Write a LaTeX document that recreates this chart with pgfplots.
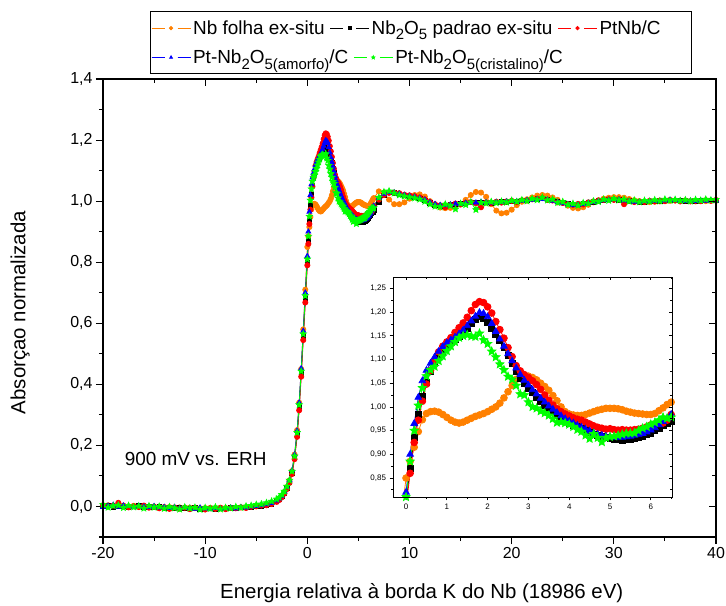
\documentclass[border=0pt]{standalone}
\usepackage{pgfplots}
\pgfplotsset{compat=1.18}
\usepackage{pgfplotstable}
\usepackage{fontspec}
\setmainfont{Liberation Sans}
\usetikzlibrary{plotmarks}

\definecolor{cOr}{RGB}{255,128,0}
\definecolor{cRd}{RGB}{255,0,0}
\definecolor{cBl}{RGB}{0,0,255}
\definecolor{cGr}{RGB}{0,255,0}

\pgfdeclareplotmark{fstar}{%
\pgfpathmoveto{\pgfpointpolar{90}{\pgfplotmarksize}}%
\pgfpathlineto{\pgfpointpolar{126}{0.45\pgfplotmarksize}}%
\pgfpathlineto{\pgfpointpolar{162}{\pgfplotmarksize}}%
\pgfpathlineto{\pgfpointpolar{198}{0.45\pgfplotmarksize}}%
\pgfpathlineto{\pgfpointpolar{234}{\pgfplotmarksize}}%
\pgfpathlineto{\pgfpointpolar{270}{0.45\pgfplotmarksize}}%
\pgfpathlineto{\pgfpointpolar{306}{\pgfplotmarksize}}%
\pgfpathlineto{\pgfpointpolar{342}{0.45\pgfplotmarksize}}%
\pgfpathlineto{\pgfpointpolar{18}{\pgfplotmarksize}}%
\pgfpathlineto{\pgfpointpolar{54}{0.45\pgfplotmarksize}}%
\pgfpathclose
\pgfusepathqfillstroke}

\newcommand\sub[1]{\raisebox{-0.3em}{\fontsize{15}{15}\selectfont #1}}

\pgfplotsset{
  pOr/.style={color=cOr, line width=0.8bp, mark=*, mark size=#1},
  pBk/.style={color=black, line width=0.8bp, mark=square*, mark size=#1},
  pRd/.style={color=cRd, line width=0.8bp, mark=*, mark size=#1},
  pBl/.style={color=cBl, line width=0.8bp, mark=triangle*, mark size=#1},
  pGr/.style={color=cGr, line width=0.8bp, mark=fstar, mark size=#1},
  myleg/.style={legend image code/.code={%
    \draw[##1, line width=1.1bp] (0bp,0bp) -- (13bp,0bp);
    \draw[##1, line width=1.1bp] (26bp,0bp) -- (39bp,0bp);
    \draw[##1, mark size=1.7bp] plot[only marks] coordinates {(19.5bp,0bp)};}},
}

\pgfplotstableread{
x y
-20 0.002
-19.5 0.004
-19 0.001
-18.5 0.006
-18 0.003
-17.5 0.0
-17 0.002
-16.5 -0.001
-16 0.001
-15.5 -0.002
-15 0.0
-14.5 -0.001
-14 -0.003
-13.5 -0.002
-13 -0.004
-12.5 -0.003
-12 -0.005
-11.5 -0.004
-11 -0.005
-10.5 -0.006
-10 -0.005
-9.5 -0.006
-9 -0.005
-8.5 -0.006
-8 -0.005
-7.5 -0.004
-7 -0.004
-6.5 -0.003
-6 -0.002
-5.5 -0.001
-5 0.0
-4.5 0.002
-4 0.006
-3.5 0.01
-3 0.018
-2.75 0.025
-2.5 0.034
-2.25 0.047
-2 0.064
-1.75 0.085
-1.5 0.116
-1.25 0.17
-1 0.25
-0.8 0.34
-0.6 0.45
-0.4 0.58
-0.2 0.71
0 0.85
0.1 0.885
0.2 0.915
0.3 0.948
0.4 0.973
0.5 0.986
0.6 0.99
0.7 0.991
0.8 0.989
0.9 0.984
1.0 0.978
1.1 0.972
1.2 0.968
1.3 0.966
1.4 0.968
1.5 0.972
1.6 0.976
1.7 0.98
1.8 0.983
1.9 0.986
2.0 0.99
2.1 0.995
2.2 1.0
2.3 1.008
2.4 1.019
2.5 1.032
2.6 1.045
2.7 1.058
2.8 1.066
2.9 1.067
3.0 1.065
3.1 1.062
3.2 1.057
3.3 1.05
3.4 1.043
3.5 1.035
3.6 1.024
3.7 1.013
3.8 1.0
3.9 0.99
4.0 0.985
4.1 0.983
4.2 0.982
4.3 0.982
4.4 0.984
4.5 0.987
4.6 0.99
4.7 0.993
4.8 0.995
4.9 0.997
5.0 0.997
5.1 0.997
5.2 0.996
5.3 0.994
5.4 0.991
5.5 0.989
5.6 0.987
5.7 0.986
5.8 0.985
5.9 0.984
6.0 0.984
6.1 0.986
6.2 0.992
6.3 0.998
6.4 1.005
6.5 1.01
7.0 1.032
7.5 1.028
8.0 1.005
8.5 0.99
9.0 0.99
9.5 0.996
10.0 1.008
10.5 1.02
11.0 1.022
11.5 1.015
12.0 1.0
12.5 0.986
13.0 0.979
13.5 0.977
14.0 0.978
14.5 0.983
15.0 0.99
15.5 1.004
16.0 1.02
16.5 1.03
17.0 1.028
17.5 1.014
18.0 0.99
18.5 0.969
19.0 0.96
19.5 0.962
20.0 0.972
20.5 0.987
21.0 0.998
21.5 1.006
22.0 1.012
22.5 1.018
23.0 1.02
23.5 1.018
24.0 1.012
24.5 1.004
25.0 0.994
25.5 0.985
26.0 0.978
26.5 0.976
27.0 0.98
27.5 0.988
28.0 0.996
28.5 1.003
29.0 1.008
29.5 1.011
30.0 1.013
30.5 1.013
31.0 1.011
31.5 1.007
32.0 1.003
32.5 1.0
33.0 0.998
33.5 0.997
34.0 0.998
34.5 0.999
35.0 1.0
35.5 1.001
36.0 1.002
36.5 1.002
37.0 1.001
37.5 1.0
38.0 0.999
38.5 1.0
39.0 1.0
39.5 1.001
40.0 1.001
}\tOr

\pgfplotstableread{
x y
-20 0.0
-19.5 0.003
-19 -0.001
-18.5 0.002
-18 0.001
-17.5 -0.002
-17 0.0
-16.5 0.002
-16 -0.003
-15.5 -0.001
-15 -0.004
-14.5 -0.002
-14 -0.005
-13.5 -0.003
-13 -0.006
-12.5 -0.004
-12 -0.006
-11.5 -0.007
-11 -0.005
-10.5 -0.008
-10 -0.006
-9.5 -0.007
-9 -0.008
-8.5 -0.006
-8 -0.007
-7.5 -0.005
-7 -0.006
-6.5 -0.004
-6 -0.003
-5.5 -0.002
-5 0.0
-4.5 0.002
-4 0.005
-3.5 0.009
-3 0.016
-2.75 0.023
-2.5 0.032
-2.25 0.044
-2 0.06
-1.75 0.08
-1.5 0.11
-1.25 0.16
-1 0.235
-0.8 0.325
-0.6 0.435
-0.4 0.555
-0.2 0.68
0 0.80
0.1 0.87
0.2 0.935
0.3 0.985
0.4 1.022
0.5 1.052
0.6 1.075
0.7 1.093
0.8 1.107
0.9 1.118
1.0 1.128
1.1 1.136
1.2 1.142
1.3 1.149
1.4 1.157
1.5 1.166
1.6 1.176
1.7 1.185
1.8 1.19
1.9 1.186
2.0 1.178
2.1 1.166
2.2 1.153
2.3 1.14
2.4 1.125
2.5 1.108
2.6 1.092
2.7 1.075
2.8 1.061
2.9 1.05
3.0 1.04
3.1 1.03
3.2 1.02
3.3 1.012
3.4 1.004
3.5 0.997
3.6 0.99
3.7 0.983
3.8 0.976
3.9 0.97
4.0 0.966
4.1 0.962
4.2 0.958
4.3 0.954
4.4 0.95
4.5 0.946
4.6 0.943
4.7 0.94
4.8 0.937
4.9 0.935
5.0 0.933
5.1 0.932
5.2 0.931
5.3 0.93
5.4 0.931
5.5 0.932
5.6 0.933
5.7 0.935
5.8 0.938
5.9 0.941
6.0 0.945
6.1 0.95
6.2 0.955
6.3 0.96
6.4 0.965
6.5 0.97
7.0 0.998
7.5 1.018
8.0 1.028
8.5 1.027
9.0 1.022
9.5 1.018
10.0 1.016
10.5 1.013
11.0 1.009
11.5 1.003
12.0 0.994
12.5 0.987
13.0 0.984
13.5 0.985
14.0 0.988
14.5 0.99
15.0 0.991
15.5 0.993
16.0 0.995
16.5 0.996
17.0 0.996
17.5 0.995
18.0 0.994
18.5 0.995
19.0 0.997
19.5 0.998
20.0 0.999
20.5 1.0
21.0 1.002
21.5 1.003
22.0 1.005
22.5 1.007
23.0 1.008
23.5 1.006
24.0 1.003
24.5 0.999
25.0 0.995
25.5 0.992
26.0 0.99
26.5 0.99
27.0 0.992
27.5 0.995
28.0 0.998
28.5 1.001
29.0 1.003
29.5 1.005
30.0 1.005
30.5 1.004
31.0 1.003
31.5 1.001
32.0 0.999
32.5 0.998
33.0 0.998
33.5 0.999
34.0 1.0
34.5 1.001
35.0 1.002
35.5 1.003
36.0 1.003
36.5 1.002
37.0 1.001
37.5 1.0
38.0 1.0
38.5 1.001
39.0 1.002
39.5 1.002
40.0 1.003
}\tBk

\pgfplotstableread{
x y
-20 0.004
-19.5 0.0
-19 0.003
-18.5 0.012
-18 0.002
-17.5 -0.003
-17 0.001
-16.5 -0.002
-16 0.003
-15.5 -0.004
-15 -0.001
-14.5 -0.006
-14 -0.002
-13.5 -0.008
-13 -0.003
-12.5 -0.007
-12 -0.004
-11.5 -0.009
-11 -0.005
-10.5 -0.007
-10 -0.01
-9.5 -0.005
-9 -0.008
-8.5 -0.004
-8 -0.009
-7.5 -0.005
-7 -0.006
-6.5 -0.003
-6 -0.005
-5.5 -0.001
-5 0.001
-4.5 0.003
-4 0.004
-3.5 0.008
-3 0.015
-2.75 0.021
-2.5 0.03
-2.25 0.042
-2 0.057
-1.75 0.077
-1.5 0.106
-1.25 0.155
-1 0.228
-0.8 0.315
-0.6 0.425
-0.4 0.545
-0.2 0.668
0 0.79
0.1 0.86
0.2 0.925
0.3 0.972
0.4 1.012
0.5 1.048
0.6 1.077
0.7 1.098
0.8 1.116
0.9 1.128
1.0 1.137
1.1 1.146
1.2 1.157
1.3 1.167
1.4 1.177
1.5 1.189
1.6 1.203
1.7 1.216
1.8 1.222
1.9 1.22
2.0 1.211
2.1 1.198
2.2 1.18
2.3 1.163
2.4 1.145
2.5 1.125
2.6 1.106
2.7 1.087
2.8 1.076
2.9 1.068
3.0 1.062
3.1 1.055
3.2 1.047
3.3 1.037
3.4 1.025
3.5 1.014
3.6 1.004
3.7 0.996
3.8 0.99
3.9 0.985
4.0 0.981
4.1 0.977
4.2 0.974
4.3 0.972
4.4 0.968
4.5 0.964
4.6 0.96
4.7 0.957
4.8 0.955
4.9 0.953
5.0 0.954
5.1 0.952
5.2 0.951
5.3 0.952
5.4 0.951
5.5 0.951
5.6 0.952
5.7 0.953
5.8 0.955
5.9 0.958
6.0 0.962
6.1 0.964
6.2 0.965
6.3 0.966
6.4 0.972
6.5 0.984
7.0 1.005
7.5 1.02
8.0 1.027
8.5 1.028
9.0 1.026
9.5 1.021
10.0 1.019
10.5 1.016
11.0 1.012
11.5 1.006
12.0 0.997
12.5 0.99
13.0 0.986
13.5 0.98
14.0 0.988
14.5 0.992
15.0 0.989
15.5 0.994
16.0 0.997
16.5 0.993
17.0 0.98
17.5 0.996
18.0 0.994
18.5 0.998
19.0 0.995
19.5 0.999
20.0 1.001
20.5 0.997
21.0 1.003
21.5 1.002
22.0 1.006
22.5 1.008
23.0 1.01
23.5 1.004
24.0 1.002
24.5 0.996
25.0 0.994
25.5 0.99
26.0 0.988
26.5 0.991
27.0 0.989
27.5 0.996
28.0 0.999
28.5 1.002
29.0 1.004
29.5 1.006
30.0 1.004
30.5 1.006
31.0 0.99
31.5 1.002
32.0 0.997
32.5 0.999
33.0 0.997
33.5 1.001
34.0 0.999
34.5 1.002
35.0 1.0
35.5 1.004
36.0 1.002
36.5 0.999
37.0 1.002
37.5 0.999
38.0 1.001
38.5 1.0
39.0 1.003
39.5 1.001
40.0 1.004
}\tRd

\pgfplotstableread{
x y
-20 -0.002
-19.5 0.002
-19 0.005
-18.5 -0.001
-18 0.003
-17.5 0.001
-17 -0.003
-16.5 0.002
-16 -0.001
-15.5 -0.003
-15 0.001
-14.5 -0.004
-14 -0.002
-13.5 -0.005
-13 -0.002
-12.5 -0.006
-12 -0.003
-11.5 -0.005
-11 -0.008
-10.5 -0.004
-10 -0.007
-9.5 -0.009
-9 -0.005
-8.5 -0.008
-8 -0.006
-7.5 -0.004
-7 -0.007
-6.5 -0.003
-6 -0.004
-5.5 0.0
-5 0.001
-4.5 0.004
-4 0.007
-3.5 0.011
-3 0.019
-2.75 0.026
-2.5 0.035
-2.25 0.048
-2 0.065
-1.75 0.086
-1.5 0.118
-1.25 0.17
-1 0.248
-0.8 0.34
-0.6 0.452
-0.4 0.575
-0.2 0.70
0 0.82
0.1 0.90
0.2 0.965
0.3 1.02
0.4 1.055
0.5 1.077
0.6 1.092
0.7 1.105
0.8 1.117
0.9 1.127
1.0 1.135
1.1 1.141
1.2 1.147
1.3 1.154
1.4 1.162
1.5 1.171
1.6 1.181
1.7 1.191
1.8 1.199
1.9 1.197
2.0 1.19
2.1 1.176
2.2 1.159
2.3 1.143
2.4 1.128
2.5 1.112
2.6 1.097
2.7 1.082
2.8 1.068
2.9 1.056
3.0 1.046
3.1 1.036
3.2 1.027
3.3 1.018
3.4 1.01
3.5 1.002
3.6 0.995
3.7 0.988
3.8 0.981
3.9 0.975
4.0 0.97
4.1 0.966
4.2 0.961
4.3 0.957
4.4 0.953
4.5 0.949
4.6 0.945
4.7 0.942
4.8 0.94
4.9 0.938
5.0 0.937
5.1 0.936
5.2 0.936
5.3 0.936
5.4 0.937
5.5 0.938
5.6 0.94
5.7 0.942
5.8 0.944
5.9 0.947
6.0 0.951
6.1 0.956
6.2 0.962
6.3 0.969
6.4 0.976
6.5 0.984
7.0 1.01
7.5 1.024
8.0 1.03
8.5 1.028
9.0 1.024
9.5 1.02
10.0 1.017
10.5 1.014
11.0 1.01
11.5 1.004
12.0 0.996
12.5 0.99
13.0 0.987
13.5 0.986
14.0 0.989
14.5 0.991
15.0 0.99
15.5 0.994
16.0 0.996
16.5 0.995
17.0 0.997
17.5 0.996
18.0 0.995
18.5 0.997
19.0 0.996
19.5 0.999
20.0 1.0
20.5 0.999
21.0 1.001
21.5 1.003
22.0 1.004
22.5 1.006
23.0 1.007
23.5 1.005
24.0 1.001
24.5 0.997
25.0 0.993
25.5 0.989
26.0 0.986
26.5 0.987
27.0 0.99
27.5 0.994
28.0 0.997
28.5 1.0
29.0 1.003
29.5 1.004
30.0 1.006
30.5 1.005
31.0 1.002
31.5 1.0
32.0 0.998
32.5 0.997
33.0 0.999
33.5 1.0
34.0 1.001
34.5 1.0
35.0 1.002
35.5 1.004
36.0 1.003
36.5 1.001
37.0 1.0
37.5 1.001
38.0 1.0
38.5 1.002
39.0 1.001
39.5 1.003
40.0 1.002
}\tBl

\pgfplotstableread{
x y
-20 0.006
-19.5 -0.003
-19 0.002
-18.5 0.004
-18 -0.004
-17.5 0.003
-17 -0.002
-16.5 0.001
-16 -0.006
-15.5 0.002
-15 -0.003
-14.5 0.0
-14 -0.007
-13.5 -0.001
-13 -0.005
-12.5 -0.009
-12 -0.002
-11.5 -0.006
-11 -0.003
-10.5 -0.01
-10 -0.004
-9.5 -0.007
-9 -0.002
-8.5 -0.009
-8 -0.004
-7.5 -0.006
-7 -0.001
-6.5 -0.004
-6 0.001
-5.5 0.003
-5 0.006
-4.5 0.008
-4 0.012
-3.5 0.017
-3 0.024
-2.75 0.03
-2.5 0.039
-2.25 0.05
-2 0.066
-1.75 0.086
-1.5 0.115
-1.25 0.165
-1 0.242
-0.8 0.333
-0.6 0.443
-0.4 0.565
-0.2 0.69
0 0.81
0.1 0.885
0.2 0.95
0.3 1.003
0.4 1.04
0.5 1.065
0.6 1.078
0.7 1.085
0.8 1.097
0.9 1.107
1.0 1.118
1.1 1.128
1.2 1.137
1.3 1.146
1.4 1.15
1.5 1.152
1.6 1.149
1.7 1.148
1.8 1.155
1.9 1.141
2.0 1.133
2.1 1.117
2.2 1.105
2.3 1.09
2.4 1.078
2.5 1.064
2.6 1.058
2.7 1.045
2.8 1.027
2.9 1.025
3.0 1.01
3.1 1.0
3.2 0.997
3.3 0.991
3.4 0.987
3.5 0.982
3.6 0.975
3.7 0.967
3.8 0.968
3.9 0.966
4.0 0.963
4.1 0.958
4.2 0.952
4.3 0.948
4.4 0.94
4.5 0.933
4.6 0.943
4.7 0.935
4.8 0.926
4.9 0.935
5.0 0.937
5.1 0.938
5.2 0.94
5.3 0.942
5.4 0.944
5.5 0.944
5.6 0.945
5.7 0.95
5.8 0.955
5.9 0.958
6.0 0.963
6.1 0.967
6.2 0.972
6.3 0.978
6.4 0.976
6.5 0.978
7.0 1.012
7.5 1.03
8.0 1.033
8.5 1.026
9.0 1.02
9.5 1.016
10.0 1.013
10.5 1.01
11.0 1.006
11.5 0.999
12.0 0.99
12.5 0.983
13.0 0.981
13.5 0.99
14.0 0.985
14.5 0.974
15.0 0.992
15.5 0.988
16.0 0.997
16.5 0.972
17.0 0.995
17.5 0.993
18.0 0.998
18.5 0.994
19.0 0.999
19.5 0.996
20.0 1.002
20.5 0.998
21.0 1.004
21.5 1.0
22.0 1.008
22.5 1.004
23.0 1.012
23.5 1.003
24.0 1.006
24.5 0.995
25.0 0.998
25.5 0.988
26.0 0.992
26.5 0.986
27.0 0.994
27.5 0.992
28.0 1.0
28.5 0.998
29.0 1.006
29.5 1.002
30.0 1.008
30.5 1.003
31.0 1.006
31.5 0.999
32.0 1.003
32.5 0.997
33.0 1.002
33.5 0.999
34.0 1.004
34.5 1.0
35.0 1.006
35.5 1.002
36.0 1.005
36.5 1.001
37.0 1.004
37.5 1.0
38.0 1.005
38.5 1.002
39.0 1.006
39.5 1.003
40.0 1.005
}\tGr

\begin{document}
\begin{tikzpicture}
\useasboundingbox (-103bp,-69bp) rectangle (623bp,537bp);

% main axis
\begin{axis}[
  at={(0,0)}, anchor=south west, scale only axis,
  width=613bp, height=458bp,
  xmin=-20, xmax=40, ymin=-0.1, ymax=1.4,
  xtick={-20,-10,0,10,20,30,40},
  minor xtick={-15,-5,5,15,25,35},
  ytick={0,0.2,0.4,0.6,0.8,1.0,1.2,1.4},
  minor ytick={-0.1,0.1,0.3,0.5,0.7,0.9,1.1,1.3},
  xtick pos=left, ytick pos=left, tick align=outside,
  major tick length=7bp, minor tick length=4bp,
  axis line style={line width=1.2bp},
  every tick/.style={black, line width=1.1bp},
  /pgf/number format/assume math mode=true,
  tick label style={font=\fontsize{16}{18}\selectfont},
  yticklabel style={/pgf/number format/.cd, fixed, fixed zerofill, precision=1, use comma},
  xticklabel style={/pgf/number format/.cd, fixed, precision=0},
  every axis x label/.style={at={(axis description cs:0.52,-0.122)}, anchor=center,
    font=\fontsize{20.5}{24}\selectfont},
  every axis y label/.style={at={(axis description cs:-0.135,0.49)}, anchor=center, rotate=90,
    font=\fontsize{20.5}{24}\selectfont},
  xlabel={Energia relativa à borda K do Nb (18986 eV)},
  ylabel={Absorçao normalizada},
  legend columns=3, myleg,
  legend style={at={(axis description cs:0.078,1.111)}, anchor=west, draw=none, fill=none,
    inner sep=0pt, font=\fontsize{19}{21}\selectfont,
    /tikz/every even column/.append style={column sep=3bp},
    nodes={inner sep=2bp}},
]
\addplot[pOr=2.6] table[x=x,y=y] {\tOr}; \addlegendentry{Nb folha ex-situ}
\addplot[pBk=2.2] table[x=x,y=y] {\tBk}; \addlegendentry{Nb\sub{2}O\sub{5} padrao ex-situ}
\addplot[pRd=2.6] table[x=x,y=y] {\tRd}; \addlegendentry{PtNb/C}
\addplot[pBl=2.8] table[x=x,y=y] {\tBl};
\addplot[pGr=3.2] table[x=x,y=y] {\tGr};
\node[anchor=west, font=\fontsize{19}{21}\selectfont] at (axis cs:-18.2,0.155) {900 mV vs. ERH};
\end{axis}

% overlay: inward ticks on top/right + second legend row
\begin{axis}[
  at={(0,0)}, anchor=south west, scale only axis,
  width=613bp, height=458bp,
  xmin=-20, xmax=40, ymin=-0.1, ymax=1.4,
  xtick={-20,-10,0,10,20,30,40},
  minor xtick={-15,-5,5,15,25,35},
  ytick={0,0.2,0.4,0.6,0.8,1.0,1.2,1.4},
  minor ytick={-0.1,0.1,0.3,0.5,0.7,0.9,1.1,1.3},
  xtick pos=right, ytick pos=right, tick align=inside,
  xticklabels={}, yticklabels={},
  major tick length=7bp, minor tick length=4bp,
  axis line style={line width=1.2bp},
  every tick/.style={black, line width=1.1bp},
  legend columns=2, myleg,
  legend style={at={(axis description cs:0.078,1.047)}, anchor=west, draw=none, fill=none,
    inner sep=0pt, font=\fontsize{19}{21}\selectfont,
    /tikz/every even column/.append style={column sep=3bp},
    nodes={inner sep=2bp}},
]
\addlegendimage{color=cBl, draw=cBl, fill=cBl, line width=0.8bp, mark=triangle*, mark size=2.8}
\addlegendentry{Pt-Nb\sub{2}O\sub{5(amorfo)}/C}
\addlegendimage{color=cGr, draw=cGr, fill=cGr, line width=0.8bp, mark=fstar, mark size=3.2}
\addlegendentry{Pt-Nb\sub{2}O\sub{5(cristalino)}/C}
\end{axis}

\draw[line width=1bp] (47bp,463bp) rectangle (588bp,525bp);

% inset
\begin{axis}[
  at={(290bp,40bp)}, anchor=south west, scale only axis,
  width=279bp, height=220bp,
  xmin=-0.32, xmax=6.52, ymin=0.81, ymax=1.274,
  xtick={0,1,2,3,4,5,6},
  minor xtick={0.5,1.5,2.5,3.5,4.5,5.5,6.5},
  ytick={0.85,0.90,0.95,1.00,1.05,1.10,1.15,1.20,1.25},
  minor ytick={0.825,0.875,0.925,0.975,1.025,1.075,1.125,1.175,1.225},
  xtick pos=left, ytick pos=left, tick align=outside,
  major tick length=3.5bp, minor tick length=2bp,
  axis line style={line width=0.9bp},
  every tick/.style={black, line width=0.8bp},
  /pgf/number format/assume math mode=true,
  tick label style={font=\fontsize{8}{9}\selectfont},
  yticklabel style={/pgf/number format/.cd, fixed, fixed zerofill, precision=2, use comma},
  xticklabel style={/pgf/number format/.cd, fixed, precision=0},
]
\addplot[pOr=3.4, restrict x to domain=-1:7] table[x=x,y=y] {\tOr};
\addplot[pBk=3.0, restrict x to domain=-1:7] table[x=x,y=y] {\tBk};
\addplot[pRd=3.4, restrict x to domain=-1:7] table[x=x,y=y] {\tRd};
\addplot[pBl=3.8, restrict x to domain=-1:7] table[x=x,y=y] {\tBl};
\addplot[pGr=4.3, restrict x to domain=-1:7] table[x=x,y=y] {\tGr};
\end{axis}

\begin{axis}[
  at={(290bp,40bp)}, anchor=south west, scale only axis,
  width=279bp, height=220bp,
  xmin=-0.32, xmax=6.52, ymin=0.81, ymax=1.274,
  xtick={0,1,2,3,4,5,6},
  minor xtick={0.5,1.5,2.5,3.5,4.5,5.5,6.5},
  ytick={0.85,0.90,0.95,1.00,1.05,1.10,1.15,1.20,1.25},
  minor ytick={0.825,0.875,0.925,0.975,1.025,1.075,1.125,1.175,1.225},
  xtick pos=right, ytick pos=right, tick align=inside,
  xticklabels={}, yticklabels={},
  major tick length=3.5bp, minor tick length=2bp,
  axis line style={line width=0.9bp},
  every tick/.style={black, line width=0.8bp},
]
\end{axis}
\end{tikzpicture}
\end{document}
